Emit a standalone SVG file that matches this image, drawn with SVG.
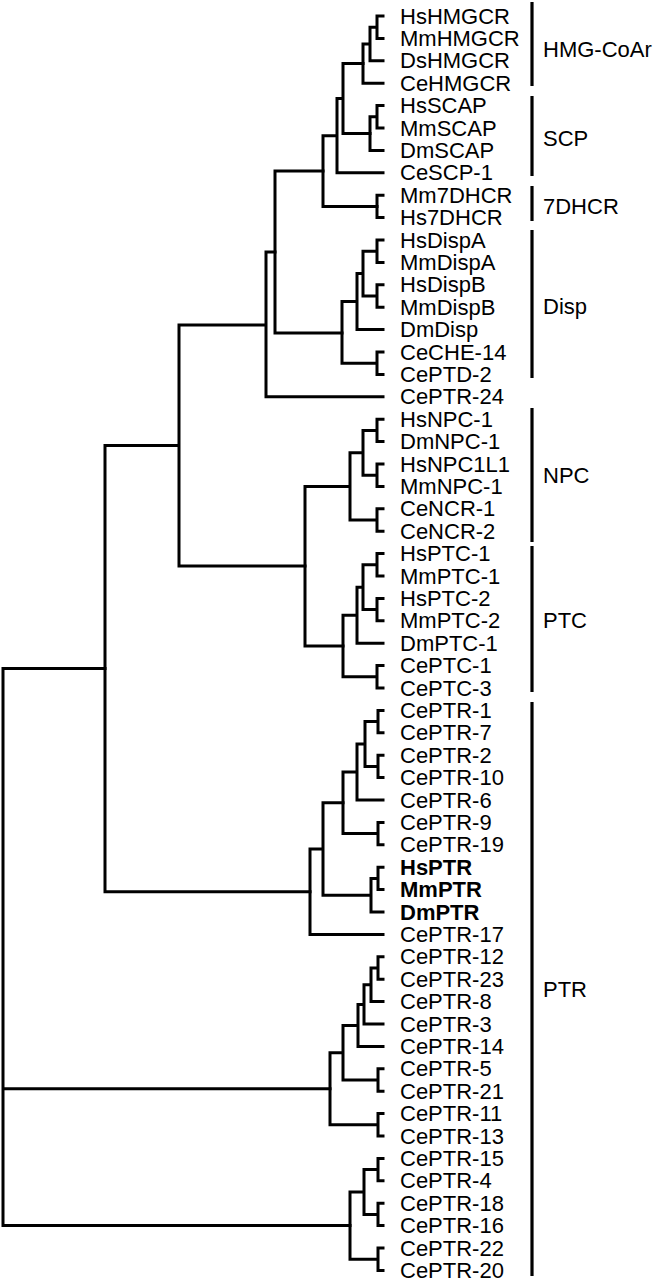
<svg xmlns="http://www.w3.org/2000/svg" width="665" height="1280" viewBox="0 0 665 1280">
<style>
text{font-family:"Liberation Sans",Arial,sans-serif;font-size:22px;fill:#000}
.b{font-weight:bold}
#connectors path{fill:none;stroke:#000;stroke-width:3;stroke-linecap:square}
.bar{stroke:#000;stroke-width:3.2}
</style>
<rect width="665" height="1280" fill="#fff"/>
<g id="connectors">
<path d="M383 16H377V38.4H383M377 27.2H370V60.8H383M370 44H363V83.2H383"/>
<path d="M383 105.6H377V128H383M377 116.8H370V150.4H383"/>
<path d="M363 63.6H343V133.6H370M343 98.6H337V172.8H383M337 135.7H323V206.4H377"/>
<path d="M383 195.2H377V217.6H383"/>
<path d="M323 171H275V333H342"/>
<path d="M383 240H377V262.4H383M383 284.8H377V307.2H383M377 251.2H363V296H377M363 273.6H357V329.6H383M357 301.6H342V363.2H377M383 352H377V374.4H383"/>
<path d="M275 252H266V396.8H383M266 325H179V566H305M179 445.6H105V891.7H310"/>
<path d="M383 419.2H377V441.6H383M383 464H377V486.4H383M383 508.8H377V531.2H383M377 430.4H363V475.2H377M363 452.8H350V520H377M350 486.4H305V646H343"/>
<path d="M383 553.6H377V576H383M383 598.4H377V620.8H383M383 665.6H377V688H383M377 564.8H363V609.6H377M363 587.2H357V643.2H383M357 615.2H343V676.8H377"/>
<path d="M383 710.4H378V732.8H383M383 755.2H378V777.6H383M378 721.6H365V766.4H378M365 744H357V800H383M378 833.6H343V772H357M383 822.4H378V844.8H383"/>
<path d="M343 802.8H323V895.2H371M383 867.2H378V889.6H383M378 878.4H371V912H383M323 849H310V934.4H383"/>
<path d="M105 668.6H3V1225.6H350M3 1088.8H330"/>
<path d="M383 956.8H378V979.2H383M378 968H371V1001.6H383M371 984.8H364V1024H383M364 1004.4H358V1046.4H383M358 1025.4H343V1080H378M383 1068.8H378V1091.2H383M343 1052.7H330V1124.8H378M383 1113.6H378V1136H383"/>
<path d="M383 1158.4H378V1180.8H383M383 1203.2H378V1225.6H383M383 1248H378V1270.4H383M378 1169.6H364V1214.4H378M364 1192H350V1259.2H378"/>
</g>
<g id="leaves">
<text x="400" y="23.5">HsHMGCR</text>
<text x="400" y="45.9">MmHMGCR</text>
<text x="400" y="68.3">DsHMGCR</text>
<text x="400" y="90.7">CeHMGCR</text>
<text x="400" y="113.1">HsSCAP</text>
<text x="400" y="135.5">MmSCAP</text>
<text x="400" y="157.9">DmSCAP</text>
<text x="400" y="180.3">CeSCP-1</text>
<text x="400" y="202.7">Mm7DHCR</text>
<text x="400" y="225.1">Hs7DHCR</text>
<text x="400" y="247.5">HsDispA</text>
<text x="400" y="269.9">MmDispA</text>
<text x="400" y="292.3">HsDispB</text>
<text x="400" y="314.7">MmDispB</text>
<text x="400" y="337.1">DmDisp</text>
<text x="400" y="359.5">CeCHE-14</text>
<text x="400" y="381.9">CePTD-2</text>
<text x="400" y="404.3">CePTR-24</text>
<text x="400" y="426.7">HsNPC-1</text>
<text x="400" y="449.1">DmNPC-1</text>
<text x="400" y="471.5">HsNPC1L1</text>
<text x="400" y="493.9">MmNPC-1</text>
<text x="400" y="516.3">CeNCR-1</text>
<text x="400" y="538.7">CeNCR-2</text>
<text x="400" y="561.1">HsPTC-1</text>
<text x="400" y="583.5">MmPTC-1</text>
<text x="400" y="605.9">HsPTC-2</text>
<text x="400" y="628.3">MmPTC-2</text>
<text x="400" y="650.7">DmPTC-1</text>
<text x="400" y="673.1">CePTC-1</text>
<text x="400" y="695.5">CePTC-3</text>
<text x="400" y="717.9">CePTR-1</text>
<text x="400" y="740.3">CePTR-7</text>
<text x="400" y="762.7">CePTR-2</text>
<text x="400" y="785.1">CePTR-10</text>
<text x="400" y="807.5">CePTR-6</text>
<text x="400" y="829.9">CePTR-9</text>
<text x="400" y="852.3">CePTR-19</text>
<text class="b" x="400" y="874.7">HsPTR</text>
<text class="b" x="400" y="897.1">MmPTR</text>
<text class="b" x="400" y="919.5">DmPTR</text>
<text x="400" y="941.9">CePTR-17</text>
<text x="400" y="964.3">CePTR-12</text>
<text x="400" y="986.7">CePTR-23</text>
<text x="400" y="1009.1">CePTR-8</text>
<text x="400" y="1031.5">CePTR-3</text>
<text x="400" y="1053.9">CePTR-14</text>
<text x="400" y="1076.3">CePTR-5</text>
<text x="400" y="1098.7">CePTR-21</text>
<text x="400" y="1121.1">CePTR-11</text>
<text x="400" y="1143.5">CePTR-13</text>
<text x="400" y="1165.9">CePTR-15</text>
<text x="400" y="1188.3">CePTR-4</text>
<text x="400" y="1210.7">CePTR-18</text>
<text x="400" y="1233.1">CePTR-16</text>
<text x="400" y="1255.5">CePTR-22</text>
<text x="400" y="1277.5">CePTR-20</text>
</g>
<g id="groups">
<line class="bar" x1="532" y1="2" x2="532" y2="86"/><text x="543" y="57">HMG-CoAr</text>
<line class="bar" x1="532" y1="96" x2="532" y2="176"/><text x="543" y="146">SCP</text>
<line class="bar" x1="532" y1="186" x2="532" y2="221"/><text x="543" y="214">7DHCR</text>
<line class="bar" x1="532" y1="230" x2="532" y2="378"/><text x="543" y="314">Disp</text>
<line class="bar" x1="532" y1="408" x2="532" y2="542"/><text x="543" y="483">NPC</text>
<line class="bar" x1="532" y1="546" x2="532" y2="692"/><text x="543" y="628">PTC</text>
<line class="bar" x1="532" y1="702" x2="532" y2="1276"/><text x="543" y="997">PTR</text>
</g>
</svg>
